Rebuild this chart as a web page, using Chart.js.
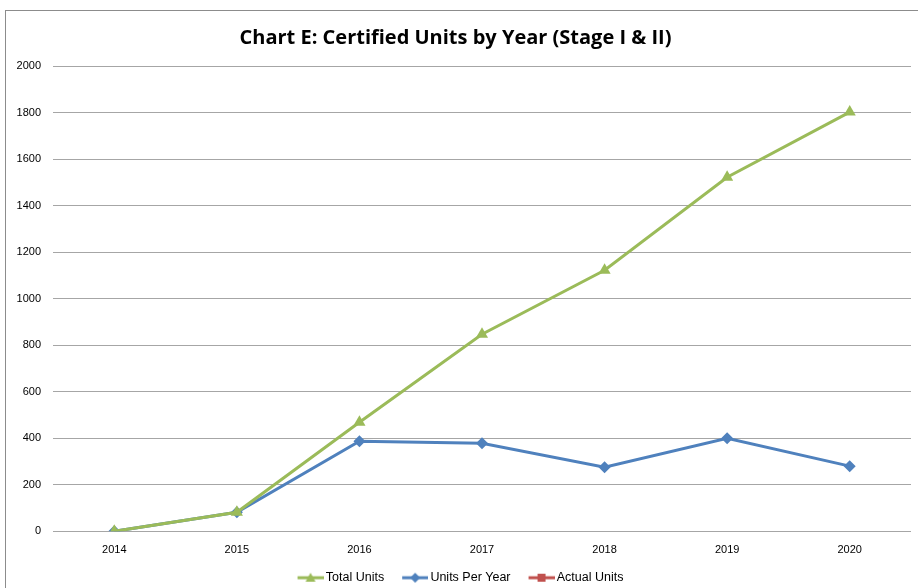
<!DOCTYPE html>
<html>
<head>
<meta charset="utf-8">
<script src="https://cdn.jsdelivr.net/npm/chart.js@4/dist/chart.umd.min.js"></script>
<style>
    html, body { margin: 0; padding: 0; background: #fff; }
    #wrap { position: relative; width: 918px; height: 588px; }
    #frame { position: absolute; left: 5px; top: 10px; width: 913px; height: 578px;
             border-left: 1px solid #8c8c8c; border-top: 1px solid #8c8c8c; box-sizing: border-box; }
    canvas { position: absolute; left: 0; top: 0; }
</style>
</head>
<body>
<div id="wrap">
    <div id="frame"></div>
    <canvas id="chart" width="918" height="588"></canvas>
</div>
<script>
// --- DATA ---
const years = ['2014', '2015', '2016', '2017', '2018', '2019', '2020'];
const totalUnits = [0, 82, 469, 847, 1122, 1522, 1802];
const unitsPerYear = [0, 82, 387, 378, 275, 400, 280];
const actualUnits = [null, null, null, null, null, null, null];

// --- COLOURS ---
const GREEN = '#9bbb59';
const BLUE = '#4f81bd';
const RED = '#c0504d';
const FONT = "'Liberation Sans', Arial, sans-serif";

// legend swatch: short line with the marker in the middle.
// image is wider than the legend box (32) so the line sits close to the text
function legendSwatch(color, style) {
    const c = document.createElement('canvas');
    c.width = 40; c.height = 12;
    const ctx = c.getContext('2d');
    const x0 = 14, mid = 27;
    ctx.strokeStyle = color;
    ctx.fillStyle = color;
    ctx.lineWidth = 3;
    ctx.beginPath();
    ctx.moveTo(x0, 6);
    ctx.lineTo(40, 6);
    ctx.stroke();
    ctx.beginPath();
    if (style === 'triangle') {
        ctx.moveTo(mid, 1); ctx.lineTo(mid + 5, 10); ctx.lineTo(mid - 5, 10);
    } else if (style === 'rectRot') {
        ctx.moveTo(mid, 1); ctx.lineTo(mid + 5, 6); ctx.lineTo(mid, 11); ctx.lineTo(mid - 5, 6);
    } else {
        ctx.rect(mid - 4, 2, 8, 8);
    }
    ctx.closePath();
    ctx.fill();
    return c;
}

const seriesList = [
    { label: 'Total Units', data: totalUnits, color: GREEN, style: 'triangle', radius: 7 },
    { label: 'Units Per Year', data: unitsPerYear, color: BLUE, style: 'rectRot', radius: 6 },
    { label: 'Actual Units', data: actualUnits, color: RED, style: 'rect', radius: 5 }
];

new Chart(document.getElementById('chart'), {
    type: 'line',
    data: {
        labels: years,
        datasets: seriesList.map(s => ({
            label: s.label,
            data: s.data,
            borderColor: s.color,
            backgroundColor: s.color,
            borderWidth: 3,
            pointStyle: s.style,
            pointRadius: s.radius,
            pointHoverRadius: s.radius,
            pointBorderWidth: 0,
            tension: 0,
            spanGaps: false
        }))
    },
    options: {
        responsive: false,
        animation: false,
        // negative bottom padding pushes the legend a little lower, like the original
        layout: { padding: { left: 0, right: 7, top: 0, bottom: -6 } },
        scales: {
            x: {
                offset: true,
                afterFit: (scale) => { scale.height -= 5; },
                grid: { display: false, drawTicks: false },
                border: { display: false },
                ticks: { color: '#000', font: { family: FONT, size: 11 }, padding: 12 }
            },
            y: {
                min: 0,
                max: 2000,
                afterFit: (scale) => { scale.width = 53; },
                grid: { color: '#a6a6a6', lineWidth: 1, drawTicks: false },
                border: { display: false },
                ticks: {
                    stepSize: 200,
                    color: '#000',
                    font: { family: FONT, size: 11 },
                    padding: 12,
                    callback: (value) => String(value)
                }
            }
        },
        plugins: {
            title: {
                display: true,
                text: 'Chart E: Certified Units by Year (Stage I & II)',
                color: '#000',
                font: { family: "'Open Sans', sans-serif", size: 20, weight: 'bold' },
                padding: { top: 26, bottom: 16 }
            },
            legend: {
                position: 'bottom',
                labels: {
                    color: '#000',
                    font: { family: FONT, size: 12.5 },
                    usePointStyle: true,
                    pointStyleWidth: 32,
                    padding: 8,
                    generateLabels: () => seriesList.map((s, i) => ({
                        text: s.label,
                        datasetIndex: i,
                        pointStyle: legendSwatch(s.color, s.style),
                        fontColor: '#000',
                        lineWidth: 0,
                        hidden: false
                    }))
                }
            },
            tooltip: { enabled: false }
        }
    }
});
</script>
</body>
</html>
